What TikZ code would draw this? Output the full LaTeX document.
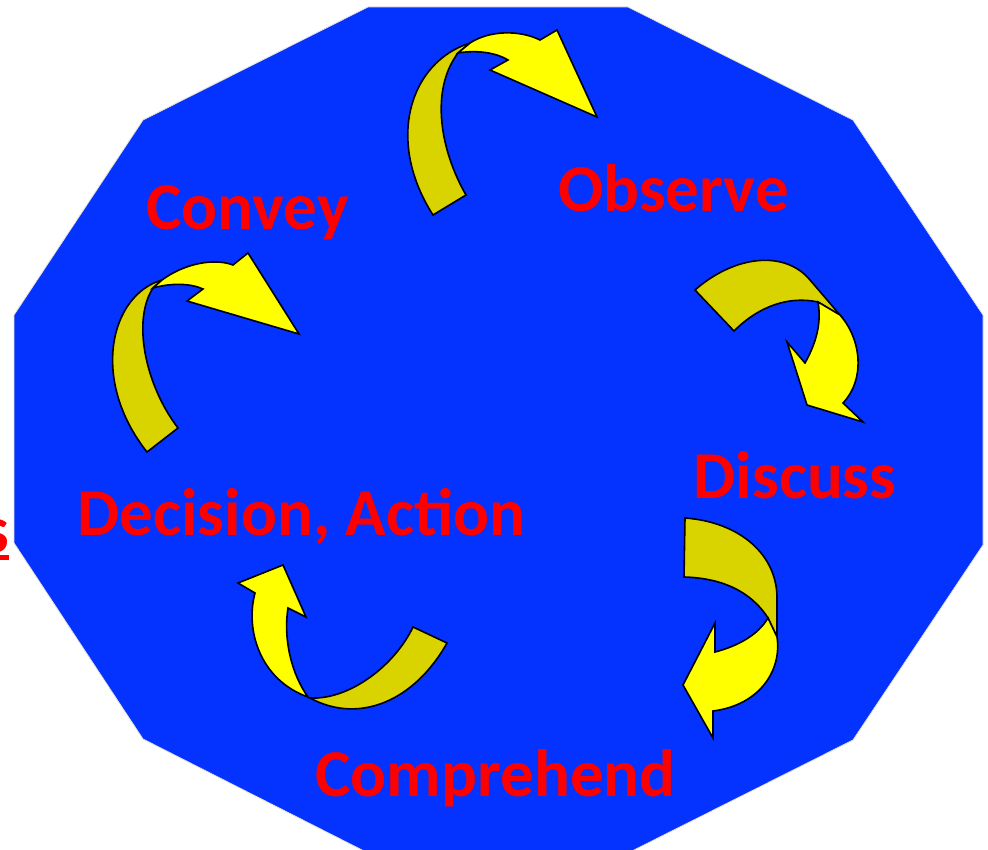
\documentclass[tikz,border=0pt]{standalone}
\usepackage{fontspec}
\setmainfont{Carlito}
\definecolor{bgblue}{RGB}{4,51,255}
\definecolor{edgegray}{RGB}{228,224,216}
\definecolor{ribbonback}{RGB}{217,211,0}
\definecolor{ribbonfront}{RGB}{255,255,0}
\definecolor{lblred}{RGB}{255,0,0}
\tikzset{
  back/.style={fill=ribbonback, draw=black, line width=1.6pt},
  front/.style={fill=ribbonfront, draw=black, line width=1.6pt},
  lbl/.style={text=lblred, inner sep=0pt, anchor=base, font=\fontsize{67}{80}\selectfont\bfseries}
}
\begin{document}
\begin{tikzpicture}[x=1pt,y=-1pt]
\useasboundingbox (0,0) rectangle (988,850);
% dodecagon
\filldraw[fill=bgblue, draw=edgegray, line width=0.8pt]
  (368,7) -- (628,7) -- (853,120) -- (983,315) -- (983,545) -- (853,740)
  -- (628,853) -- (368,853) -- (143,739) -- (14,543) -- (14,315) -- (143,120) -- cycle;
% arrow 1 (top)
\path[back] (433,215) -- (466,195) .. controls (440,150) and (430,90) .. (458,53)
  -- (470,43) .. controls (410,62) and (385,140) .. (433,215) -- cycle;
\path[front] (458,53) -- (470,43) .. controls (490,30) and (520,30) .. (540,40)
  -- (557,30) -- (597,117) -- (490,70) -- (508,60)
  .. controls (495,52) and (475,50) .. (458,53) -- cycle;
% arrow 2 (left, Convey)
\path[back] (147,452) -- (178,428) .. controls (145,385) and (132,320) .. (153,288)
  -- (162,280) .. controls (110,295) and (90,380) .. (147,452) -- cycle;
\path[front] (153,288) -- (162,280) .. controls (185,263) and (215,258) .. (233,265)
  -- (248,253) -- (299,334) -- (187,301) -- (203,289)
  .. controls (190,283) and (170,283) .. (153,288) -- cycle;
% arrow 3 (right, Observe -> Discuss)
\path[back] (695,290) .. controls (735,255) and (785,250) .. (810,280) -- (840,315)
  -- (818,302) .. controls (790,296) and (760,305) .. (734,331) -- cycle;
\path[front] (818,302) -- (840,315) .. controls (862,340) and (865,380) .. (843,403)
  -- (863,422) -- (807,405) -- (787,342) -- (805,363)
  .. controls (815,345) and (822,325) .. (818,302) -- cycle;
% arrow 4 (Discuss -> Comprehend)
\path[back] (685,518) .. controls (740,522) and (778,555) .. (777,600) -- (777,637)
  -- (768,618) .. controls (750,590) and (720,578) .. (684,577) -- cycle;
\path[front] (768,618) -- (777,637) .. controls (782,670) and (760,705) .. (713,711)
  -- (713,738) -- (683,685) -- (715,623) -- (715,652)
  .. controls (738,646) and (758,635) .. (768,618) -- cycle;
% arrow 5 (Comprehend -> Decision)
\path[back] (413,627) -- (447,643) .. controls (415,700) and (360,725) .. (310,698)
  .. controls (350,700) and (395,665) .. (413,627) -- cycle;
\path[front] (308,697) .. controls (260,680) and (245,630) .. (255,593)
  -- (238,583) -- (283,565) -- (306,617) -- (288,608)
  .. controls (283,640) and (292,675) .. (308,697) -- cycle;
% labels
\node[lbl] (convey) at (247.5,230) {Convey};
\node[lbl] (observe) at (673.5,212) {Observe};
\node[lbl] (discuss) at (795,498) {Discuss};
\node[lbl] (decision) at (301.5,535) {Decision, Action};
\node[lbl] (comprehend) at (495.5,796) {Comprehend};
\node[lbl, anchor=base east] (cut) at (9,552) {s};
\draw[lblred, line width=4.5pt] ([yshift=-5.5pt]cut.base west) -- ([yshift=-5.5pt]cut.base east);
\end{tikzpicture}
\end{document}
